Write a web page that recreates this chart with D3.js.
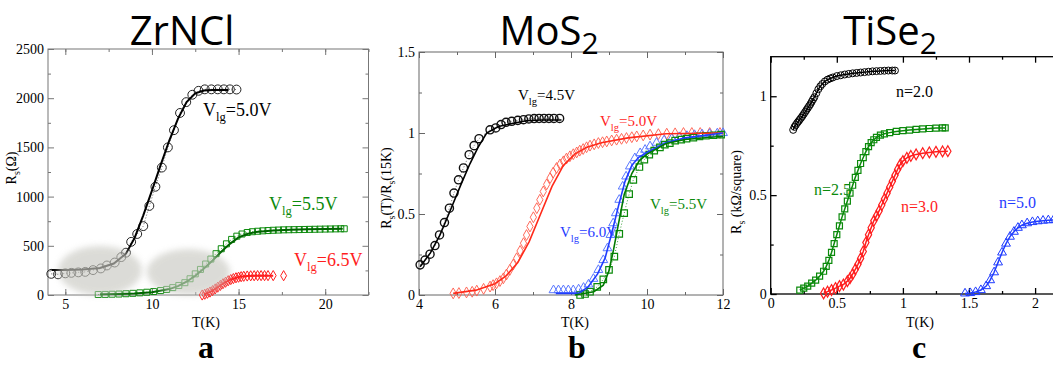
<!DOCTYPE html>
<html>
<head>
<meta charset="utf-8">
<script src="https://cdn.jsdelivr.net/npm/d3@7"></script>
<style>
  body { margin: 0; background: #fff; }
  svg text { font-family: "Liberation Serif", "Times New Roman", Times, serif; }
</style>
</head>
<body>
<div id="chart"></div>
<script>
'use strict';

// ---- Panel a: ZrNCl, R_s (Ohm) vs T (K) ----
var zrT50 = [4.19, 4.58, 5.0, 5.35, 5.75, 6.15, 6.6, 7.05, 7.4, 7.85, 8.23, 8.5, 8.8, 9.15, 9.5, 9.85, 10.2, 10.57, 10.92, 11.27, 11.62, 11.98, 12.33, 12.69, 13.05, 13.43, 13.8, 14.15, 14.5, 14.88];
var zrR50 = [215, 210, 220, 225, 230, 235, 253, 270, 300, 330, 385, 430, 540, 620, 700, 905, 1100, 1295, 1500, 1675, 1850, 1960, 2035, 2075, 2090, 2090, 2090, 2090, 2090, 2088];
var zrFitT50 = [4.2, 5, 6, 7, 7.8, 8.5, 9, 9.5, 10, 10.5, 11, 11.5, 12, 12.5, 13, 13.5, 14, 14.4];
var zrFitR50 = [255, 255, 258, 275, 320, 420, 580, 810, 1060, 1320, 1570, 1790, 1960, 2050, 2078, 2083, 2083, 2083];

var zrT55 = [6.9, 7.3, 7.7, 8.1, 8.5, 8.9, 9.3, 9.7, 10.1, 10.5, 10.85, 11.2, 11.55, 11.9, 12.2, 12.5, 12.8, 13.1, 13.4, 13.7, 14.0, 14.3, 14.6, 14.9, 15.2, 15.5, 15.8, 16.1, 16.4, 16.7, 17.0, 17.3, 17.6, 17.9, 18.2, 18.5, 18.8, 19.1, 19.4, 19.7, 20.0, 20.3, 20.6, 20.9, 21.1];
var zrR55 = [5, 6, 8, 10, 13, 17, 22, 28, 35, 45, 57, 75, 97, 125, 165, 215, 260, 315, 365, 420, 470, 520, 565, 598, 620, 635, 643, 648, 652, 655, 658, 660, 662, 663, 664, 665, 666, 667, 668, 669, 670, 671, 672, 673, 673];
var zrFitT55 = [7, 8, 9, 10, 11, 11.5, 12, 12.5, 13, 13.5, 14, 14.5, 15, 15.5, 16, 17, 18, 19, 20, 21];
var zrFitR55 = [8, 10, 15, 28, 60, 90, 135, 195, 270, 350, 440, 520, 585, 620, 640, 655, 663, 668, 671, 673];

var zrT65 = [12.9, 13.05, 13.2, 13.35, 13.5, 13.65, 13.8, 13.95, 14.1, 14.25, 14.4, 14.55, 14.7, 14.85, 15.0, 15.15, 15.3, 15.5, 15.7, 15.9, 16.1, 16.3, 16.5, 16.7, 17.0, 17.6];
var zrR65 = [0, 8, 18, 30, 45, 62, 80, 98, 115, 130, 145, 157, 167, 175, 181, 186, 190, 193, 195, 196, 197, 197, 197, 197, 197, 196];
var zrFitT65 = [13, 13.5, 14, 14.5, 15, 15.5, 16, 17];
var zrFitR65 = [5, 45, 105, 155, 182, 193, 196, 196];

// grey shaded regions: centre T, centre R, half width (K), half height (Ohm)
var zrShade = [[7.0, 249, 2.42, 249], [12.1, 234, 2.4, 234]];

// ---- Panel b: MoS2, R_s(T)/R_s(15K) vs T (K) ----
var moT45 = [4.03, 4.16, 4.29, 4.42, 4.54, 4.67, 4.8, 4.92, 5.04, 5.17, 5.32, 5.45, 5.58, 5.87, 6.02, 6.16, 6.29, 6.44, 6.6, 6.75, 6.89, 7.03, 7.16, 7.29, 7.42, 7.55, 7.7];
var moR45 = [0.186, 0.216, 0.252, 0.305, 0.371, 0.447, 0.536, 0.629, 0.711, 0.784, 0.866, 0.922, 0.965, 1.02, 1.031, 1.052, 1.066, 1.072, 1.078, 1.082, 1.087, 1.089, 1.09, 1.09, 1.09, 1.09, 1.09];
var moFitT45 = [4.03, 4.3, 4.55, 4.82, 5.1, 5.34, 5.55, 5.78, 6.09, 6.48, 6.83, 7.2, 7.75];
var moFitR45 = [0.175, 0.26, 0.37, 0.52, 0.68, 0.81, 0.91, 1.0, 1.04, 1.06, 1.076, 1.08, 1.08];

var moT50 = [4.9, 5.05, 5.25, 5.4, 5.52, 5.7, 5.87, 5.95, 6.04, 6.13, 6.22, 6.3, 6.39, 6.48, 6.57, 6.66, 6.75, 6.83, 6.92, 7.01, 7.1, 7.18, 7.27, 7.36, 7.45, 7.53, 7.62, 7.71, 7.8, 7.88, 7.97, 8.06, 8.15, 8.23, 8.32, 8.41, 8.5, 8.61, 8.72, 8.83, 8.94, 9.07, 9.2, 9.33, 9.46, 9.6, 9.73, 9.9, 10.08, 10.3, 10.52, 10.74, 10.96, 11.18, 11.4, 11.65, 11.92];
var moR50 = [0.01, 0.012, 0.016, 0.02, 0.027, 0.038, 0.052, 0.061, 0.072, 0.086, 0.103, 0.126, 0.155, 0.188, 0.227, 0.272, 0.32, 0.37, 0.423, 0.48, 0.536, 0.588, 0.639, 0.683, 0.722, 0.755, 0.784, 0.806, 0.825, 0.842, 0.856, 0.869, 0.88, 0.891, 0.901, 0.912, 0.922, 0.93, 0.938, 0.943, 0.948, 0.954, 0.959, 0.964, 0.969, 0.974, 0.979, 0.985, 0.99, 0.993, 0.996, 0.998, 1.0, 1.0, 1.0, 1.0, 1.0];
var moFitT50 = [4.9, 5.5, 6.0, 6.3, 6.6, 6.9, 7.2, 7.5, 7.8, 8.1, 8.4, 8.8, 9.5, 10.5, 12];
var moFitR50 = [0.01, 0.03, 0.07, 0.12, 0.2, 0.33, 0.5, 0.67, 0.8, 0.87, 0.91, 0.94, 0.97, 0.995, 1.0];

var moT55 = [8.24, 8.37, 8.5, 8.69, 8.85, 9.0, 9.14, 9.27, 9.4, 9.53, 9.64, 9.8, 9.93, 10.06, 10.19, 10.34, 10.47, 10.6, 10.74, 10.9, 11.04, 11.22, 11.38, 11.55, 11.75, 11.95];
var moR55 = [0.0, 0.006, 0.02, 0.05, 0.097, 0.155, 0.237, 0.377, 0.505, 0.623, 0.711, 0.79, 0.835, 0.866, 0.891, 0.911, 0.928, 0.938, 0.953, 0.959, 0.965, 0.971, 0.979, 0.983, 0.986, 0.99];
var moFitT55 = [8.1, 8.6, 8.85, 9.0, 9.12, 9.25, 9.4, 9.6, 9.8, 10.0, 10.5, 11, 12];
var moFitR55 = [0.0, 0.02, 0.06, 0.15, 0.28, 0.44, 0.62, 0.75, 0.83, 0.87, 0.935, 0.96, 0.98];

var moT60 = [7.54, 7.67, 7.8, 7.93, 8.06, 8.2, 8.33, 8.46, 8.59, 8.72, 8.85, 8.96, 9.04, 9.11, 9.18, 9.27, 9.36, 9.45, 9.55, 9.68, 9.82, 9.95, 10.08, 10.25, 10.45, 10.65, 10.85, 11.05, 11.25, 11.45, 11.65, 11.85, 12.0];
var moR60 = [0.03, 0.03, 0.03, 0.03, 0.03, 0.035, 0.045, 0.065, 0.1, 0.155, 0.216, 0.289, 0.371, 0.443, 0.505, 0.588, 0.67, 0.732, 0.794, 0.845, 0.876, 0.897, 0.918, 0.94, 0.955, 0.965, 0.975, 0.982, 0.988, 0.992, 0.995, 0.998, 1.0];
var moFitT60 = [7.6, 8.2, 8.45, 8.7, 8.9, 9.07, 9.25, 9.42, 9.6, 9.78, 10.0, 10.5, 11, 12];
var moFitR60 = [0.01, 0.01, 0.05, 0.13, 0.23, 0.38, 0.55, 0.7, 0.8, 0.85, 0.88, 0.94, 0.97, 1.0];

// ---- Panel c: TiSe2, R_s (kOhm/square) vs T (K) ----
var tiT20 = [0.17, 0.18, 0.19, 0.2, 0.21, 0.22, 0.23, 0.24, 0.25, 0.26, 0.27, 0.28, 0.29, 0.3, 0.31, 0.32, 0.33, 0.345, 0.36, 0.375, 0.39, 0.41, 0.43, 0.45, 0.47, 0.5, 0.53, 0.56, 0.59, 0.62, 0.65, 0.68, 0.71, 0.74, 0.77, 0.8, 0.83, 0.86, 0.89, 0.92, 0.94];
var tiR20 = [0.83, 0.845, 0.855, 0.865, 0.873, 0.882, 0.891, 0.9, 0.91, 0.92, 0.93, 0.94, 0.95, 0.96, 0.972, 0.984, 0.995, 1.015, 1.035, 1.05, 1.062, 1.075, 1.084, 1.09, 1.095, 1.102, 1.106, 1.11, 1.113, 1.116, 1.118, 1.12, 1.122, 1.124, 1.126, 1.127, 1.128, 1.129, 1.13, 1.13, 1.13];

var tiT25 = [0.22, 0.25, 0.28, 0.31, 0.34, 0.37, 0.4, 0.42, 0.44, 0.46, 0.48, 0.5, 0.52, 0.54, 0.56, 0.58, 0.6, 0.62, 0.64, 0.66, 0.68, 0.7, 0.72, 0.74, 0.76, 0.78, 0.8, 0.83, 0.86, 0.9, 0.95, 1.0, 1.05, 1.1, 1.15, 1.2, 1.25, 1.3, 1.32];
var tiR25 = [0.02, 0.03, 0.04, 0.055, 0.07, 0.09, 0.115, 0.14, 0.17, 0.21, 0.255, 0.3, 0.345, 0.39, 0.43, 0.47, 0.51, 0.55, 0.59, 0.625, 0.66, 0.69, 0.72, 0.745, 0.765, 0.78, 0.792, 0.803, 0.81, 0.816, 0.822, 0.826, 0.829, 0.832, 0.835, 0.837, 0.839, 0.84, 0.84];

var tiT30 = [0.4, 0.43, 0.46, 0.49, 0.52, 0.55, 0.58, 0.6, 0.62, 0.64, 0.66, 0.68, 0.7, 0.72, 0.74, 0.76, 0.78, 0.8, 0.82, 0.84, 0.86, 0.88, 0.9, 0.92, 0.94, 0.96, 0.98, 1.0, 1.03, 1.06, 1.1, 1.15, 1.2, 1.25, 1.3, 1.34];
var tiR30 = [0.003, 0.012, 0.02, 0.03, 0.04, 0.048, 0.065, 0.08, 0.1, 0.125, 0.15, 0.18, 0.215, 0.26, 0.3, 0.335, 0.37, 0.395, 0.42, 0.45, 0.48, 0.51, 0.54, 0.57, 0.6, 0.63, 0.655, 0.672, 0.688, 0.698, 0.706, 0.712, 0.716, 0.719, 0.721, 0.722];

var tiT50 = [1.47, 1.51, 1.55, 1.59, 1.63, 1.66, 1.69, 1.72, 1.75, 1.78, 1.81, 1.84, 1.87, 1.9, 1.94, 1.98, 2.02, 2.06, 2.1, 2.14, 2.18];
var tiR50 = [0.003, 0.005, 0.01, 0.02, 0.04, 0.07, 0.11, 0.16, 0.21, 0.255, 0.29, 0.315, 0.335, 0.348, 0.358, 0.364, 0.368, 0.371, 0.373, 0.375, 0.376];

// ---- tick values ----
var aTicksX = [5, 10, 15, 20], aMinorX = [5, 7.5, 10, 12.5, 15, 17.5, 20, 22.5];
var aTicksY = [0, 500, 1000, 1500, 2000, 2500], aMinorY = [250, 750, 1250, 1750, 2250];
var bTicksX = [4, 6, 8, 10, 12], bMinorX = [5, 7, 9, 11];
var bTicksY = [0, 0.5, 1, 1.5], bMinorY = [0.25, 0.75, 1.25];
var cTicksX = [0, 0.5, 1, 1.5, 2], cMinorX = [0.25, 0.75, 1.25, 1.75, 2.25];
var cTicksY = [0, 0.5, 1], cMinorY = [0.25, 0.75];

var titles = ['ZrNCl', 'MoS', 'TiSe'];
var letters = ['a', 'b', 'c'];

var W = 1053, H = 365;
var svg = d3.select('#chart').append('svg').attr('width', W).attr('height', H);

var defs = svg.append('defs');
defs.append('filter').attr('id', 'blur')
    .attr('x', '-20%').attr('y', '-20%').attr('width', '140%').attr('height', '140%')
  .append('feGaussianBlur').attr('stdDeviation', 3);

/**
 * Build one panel: scales, frame and Grace-style inward ticks on all sides.
 */
function panel(o) {
  var x = d3.scaleLinear().domain(o.xDomain).range(o.xRange);
  var y = d3.scaleLinear().domain(o.yDomain).range(o.yRange);
  var g = svg.append('g');
  var x0 = o.xRange[0], x1 = o.xRange[1], y0 = o.yRange[0], y1 = o.yRange[1];

  g.append('rect')
    .attr('x', x0).attr('y', y1)
    .attr('width', x1 - x0).attr('height', y0 - y1)
    .attr('fill', 'none').attr('stroke', o.frame).attr('stroke-width', o.frameW);

  function style(ax) {
    ax.select('.domain').remove();
    ax.attr('font-family', null).attr('font-size', null);
    ax.selectAll('line').attr('stroke', o.frame).attr('stroke-width', o.frameW);
    ax.selectAll('text').attr('fill', '#000').style('font-size', '14px');
  }

  var axes = [
    [d3.axisBottom(x), 'translate(0,' + y0 + ')', o.xTicks, o.xMinor, true],
    [d3.axisTop(x), 'translate(0,' + y1 + ')', o.xTicks, o.xMinor, false],
    [d3.axisLeft(y), 'translate(' + x0 + ',0)', o.yTicks, o.yMinor, true],
    [d3.axisRight(y), 'translate(' + x1 + ',0)', o.yTicks, o.yMinor, false]
  ];
  axes.forEach(function(a) {
    g.append('g').attr('transform', a[1])
      .call(a[0].tickValues(a[2]).tickSize(-6).tickPadding(a[4] ? 4 : 0)
                .tickFormat(a[4] ? d3.format('') : ''))
      .call(style);
    g.append('g').attr('transform', a[1])
      .call(a[0].tickValues(a[3]).tickSize(-3).tickFormat(''))
      .call(style);
  });
  return {x: x, y: y, g: g};
}

function pts(T, R) {
  return T.map(function(t, i) { return [t, R[i]]; });
}

function line(p, data, color, width, dash) {
  p.g.append('path')
    .datum(data)
    .attr('fill', 'none')
    .attr('stroke', color)
    .attr('stroke-width', width)
    .attr('stroke-dasharray', dash || null)
    .attr('d', d3.line()
      .x(function(d) { return p.x(d[0]); })
      .y(function(d) { return p.y(d[1]); }));
}

function markers(p, data, shape, color, size, sw) {
  var sym = {circle: d3.symbolCircle, square: d3.symbolSquare,
             diamond: d3.symbolDiamond, triangle: d3.symbolTriangle}[shape];
  p.g.append('g').selectAll('path')
    .data(data)
    .enter().append('path')
      .attr('transform', function(d) {
        return 'translate(' + p.x(d[0]) + ',' + p.y(d[1]) + ')';
      })
      .attr('d', d3.symbol().type(sym).size(size))
      .attr('fill', 'none')
      .attr('stroke', color)
      .attr('stroke-width', sw);
}

// text with "lg" / "s" subscripts: parts = [[text, isSub], ...]
function label(parent, x, y, parts, size, color, rotate) {
  var t = parent.append('text')
    .attr('x', x).attr('y', y)
    .attr('fill', color)
    .style('font-size', size + 'px');
  if (rotate) {
    t.attr('text-anchor', 'middle')
     .attr('transform', 'rotate(-90,' + x + ',' + y + ')');
  }
  var prevSub = false;
  parts.forEach(function(pt) {
    var s = t.append('tspan').text(pt[0]);
    if (pt[1]) {
      s.attr('dy', size * 0.3).style('font-size', (size * 0.7) + 'px');
    } else if (prevSub) {
      s.attr('dy', -size * 0.3);
    }
    prevSub = pt[1];
  });
  return t;
}

function vlg(v) {
  return [['V', false], ['lg', true], ['=' + v + 'V', false]];
}

// ---------------- Panel a ----------------
var GREEN = '#0b8a0b', RED = '#ff1e1e', BLUE = '#1f3cff';

var pa = panel({
  xDomain: [4, 22.5], xRange: [48, 368.5],
  yDomain: [0, 2500], yRange: [295, 49],
  xTicks: aTicksX, xMinor: aMinorX, yTicks: aTicksY, yMinor: aMinorY,
  frame: '#777', frameW: 1
});

line(pa, pts(zrT50, zrR50), '#444', 0.8, '1,2');
line(pa, pts(zrT55, zrR55), GREEN, 0.8, '1,2');
markers(pa, pts(zrT50, zrR50), 'circle', '#222', 62, 1);
markers(pa, pts(zrT55, zrR55), 'square', GREEN, 36, 1);
markers(pa, pts(zrT65, zrR65), 'diamond', RED, 30, 1);
line(pa, pts(zrFitT50, zrFitR50), '#000', 2);
line(pa, pts(zrFitT55, zrFitR55), '#006400', 2);
line(pa, pts(zrFitT65, zrFitR65), RED, 2);

pa.g.append('g').selectAll('ellipse')
  .data(zrShade)
  .enter().append('ellipse')
    .attr('cx', function(d) { return pa.x(d[0]); })
    .attr('cy', function(d) { return pa.y(d[1]); })
    .attr('rx', function(d) { return pa.x(d[0] + d[2]) - pa.x(d[0]); })
    .attr('ry', function(d) { return pa.y(0) - pa.y(d[3]); })
    .attr('fill', '#c9c9c2')
    .attr('opacity', 0.65)
    .attr('filter', 'url(#blur)');

label(svg, 203, 116, vlg('5.0'), 18, '#000');
label(svg, 269, 210, vlg('5.5'), 18, GREEN);
label(svg, 294, 266, vlg('6.5'), 18, RED);
label(svg, 16, 168, [['R', false], ['s', true], ['(\u03a9)', false]], 14, '#000', true);
svg.append('text').attr('x', 206).attr('y', 327).attr('text-anchor', 'middle')
  .style('font-size', '14px').text('T(K)');

// ---------------- Panel b ----------------
var pb = panel({
  xDomain: [4, 12], xRange: [419, 723],
  yDomain: [0, 1.5], yRange: [295, 52],
  xTicks: bTicksX, xMinor: bMinorX, yTicks: bTicksY, yMinor: bMinorY,
  frame: '#666', frameW: 1
});

line(pb, pts(moT45, moR45), '#444', 0.8, '1,2');
markers(pb, pts(moT45, moR45), 'circle', '#111', 52, 1.4);
markers(pb, pts(moT50, moR50), 'diamond', '#ff5a4a', 34, 0.9);
markers(pb, pts(moT60, moR60), 'triangle', '#5a78ff', 34, 1);
markers(pb, pts(moT55, moR55), 'square', GREEN, 42, 1.2);
line(pb, pts(moT55, moR55), GREEN, 0.8, '1,2');
line(pb, pts(moFitT45, moFitR45), '#000', 1.6);
line(pb, pts(moFitT50, moFitR50), '#ff2a1a', 1.6);
line(pb, pts(moFitT60, moFitR60), BLUE, 1.6);
line(pb, pts(moFitT55, moFitR55), '#007a00', 1.6);

label(svg, 518, 100, vlg('4.5'), 15, '#000');
label(svg, 600, 126, vlg('5.0'), 15, RED);
label(svg, 560, 237, vlg('6.0'), 15, BLUE);
label(svg, 650, 209, vlg('5.5'), 15, GREEN);
label(svg, 391, 188, [['R', false], ['s', true], ['(T)/R', false], ['s', true], ['(15K)', false]], 14, '#000', true);
svg.append('text').attr('x', 575).attr('y', 327).attr('text-anchor', 'middle')
  .style('font-size', '14px').text('T(K)');

// ---------------- Panel c ----------------
var pc = panel({
  xDomain: [0, 2.5], xRange: [770.7, 1101.2],
  yDomain: [0, 1.2], yRange: [294, 56.7],
  xTicks: cTicksX, xMinor: cMinorX, yTicks: cTicksY, yMinor: cMinorY,
  frame: '#000', frameW: 1.3
});

line(pc, pts(tiT20, tiR20), '#000', 1.5);
line(pc, pts(tiT25, tiR25), GREEN, 1.5);
line(pc, pts(tiT30, tiR30), RED, 1.5);
line(pc, pts(tiT50, tiR50), BLUE, 1.5);
markers(pc, pts(tiT20, tiR20), 'circle', '#000', 38, 1);
markers(pc, pts(tiT25, tiR25), 'square', GREEN, 36, 1.2);
markers(pc, pts(tiT30, tiR30), 'diamond', RED, 34, 1.2);
markers(pc, pts(tiT50, tiR50), 'triangle', BLUE, 34, 1);

label(svg, 896, 97, [['n=2.0', false]], 16, '#000');
label(svg, 814, 195, [['n=2.5', false]], 16, GREEN);
label(svg, 901, 212, [['n=3.0', false]], 16, RED);
label(svg, 999, 208, [['n=5.0', false]], 16, BLUE);
label(svg, 741, 192, [['R', false], ['s', true], [' (k\u03a9/square)', false]], 14, '#000', true);
svg.append('text').attr('x', 920).attr('y', 327).attr('text-anchor', 'middle')
  .style('font-size', '14px').text('T(K)');

// ---------------- titles and panel letters ----------------
var titleX = [182, 549, 890];
titles.forEach(function(s, i) {
  var t = svg.append('text')
    .attr('x', titleX[i]).attr('y', 45)
    .attr('text-anchor', 'middle')
    .style('font-family', '"Liberation Sans Narrow", "Open Sans", sans-serif')
    .style('font-size', '40px')
    .text(s);
  if (i > 0) {
    t.append('tspan').attr('dy', 9).style('font-size', '30px').text('2');
  }
});

var letterX = [206, 577, 919];
letters.forEach(function(s, i) {
  svg.append('text')
    .attr('x', letterX[i]).attr('y', 358)
    .attr('text-anchor', 'middle')
    .style('font-weight', 'bold')
    .style('font-size', '32px')
    .text(s);
});
</script>
</body>
</html>
